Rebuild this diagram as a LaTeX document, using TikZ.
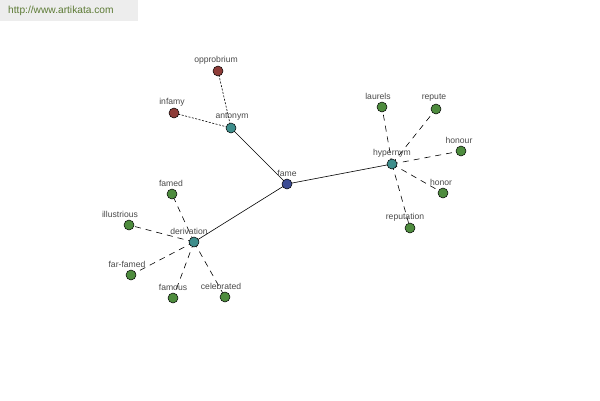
\documentclass[tikz,border=0pt]{standalone}
\usepackage{fontspec}
\setmainfont{Liberation Sans}
\usetikzlibrary{calc}
\definecolor{cgreen}{HTML}{4E8C3E}
\definecolor{cteal}{HTML}{3E8E8C}
\definecolor{cblue}{HTML}{3C4C94}
\definecolor{cbrown}{HTML}{8E3C38}
\definecolor{ctext}{HTML}{4A4A4A}
\definecolor{wmbg}{HTML}{EDEDED}
\definecolor{wmtext}{HTML}{5C7A34}
\begin{document}
\begin{tikzpicture}[x=1pt,y=-1pt,
  dot/.style={circle,draw=black,line width=0.5pt,minimum size=10pt,inner sep=0pt},
  gdot/.style={dot,fill=cgreen},
  tdot/.style={dot,fill=cteal},
  bdot/.style={dot,fill=cblue},
  rdot/.style={dot,fill=cbrown},
  lbl/.style={font=\fontsize{8.6}{10}\selectfont,text=ctext,inner sep=0pt},
  rel/.style={line width=0.6pt},
  dotrel/.style={line width=0.6pt,dash pattern=on 2pt off 1.5pt},
  dashrel/.style={line width=0.6pt,dash pattern=on 6pt off 5pt}]
\useasboundingbox (0,0) rectangle (600,400);
\fill[white] (0,0) rectangle (600,400);
\node[fill=wmbg,minimum width=138pt,minimum height=21pt,anchor=north west,inner sep=0pt] (wm) at (0,0) {};
\node[font=\fontsize{10.2}{12}\selectfont,text=wmtext,anchor=west,inner sep=0pt] (wmt) at (8,11) {http://www.artikata.com};
% nodes
\coordinate (fame) at (287,184);
\coordinate (antonym) at (231,128);
\coordinate (opprobrium) at (218,71);
\coordinate (infamy) at (174,113);
\coordinate (hypernym) at (392,164);
\coordinate (laurels) at (382,107);
\coordinate (repute) at (436,109);
\coordinate (honour) at (461,151);
\coordinate (honor) at (443,193);
\coordinate (reputation) at (410,228);
\coordinate (derivation) at (194,242);
\coordinate (famed) at (172,194);
\coordinate (illustrious) at (129,225);
\coordinate (farfamed) at (131,275);
\coordinate (famous) at (173,298);
\coordinate (celebrated) at (225,297);
% edges
\draw[rel] (fame) -- (antonym);
\draw[rel] (fame) -- (hypernym);
\draw[rel] (fame) -- (derivation);
\draw[dotrel] (antonym) -- (opprobrium);
\draw[dotrel] (antonym) -- (infamy);
\foreach \t in {laurels,repute,honour,honor,reputation}
  \draw[dashrel] (hypernym) -- (\t);
\foreach \t in {famed,illustrious,farfamed,famous,celebrated}
  \draw[dashrel] (derivation) -- (\t);
% dots
\node[bdot] (nfame) at (fame) {};
\node[tdot] (nantonym) at (antonym) {};
\node[tdot] (nhypernym) at (hypernym) {};
\node[tdot] (nderivation) at (derivation) {};
\node[rdot] (nopprobrium) at (opprobrium) {};
\node[rdot] (ninfamy) at (infamy) {};
\foreach \t in {laurels,repute,honour,honor,reputation,famed,illustrious,farfamed,famous,celebrated}
  \node[gdot] (n\t) at (\t) {};
% labels
\node[lbl] (lfame) at ($(fame)+(0,-11)$) {fame};
\node[lbl] (lantonym) at ($(antonym)+(1,-11)$) {antonym};
\node[lbl] (lopprobrium) at ($(opprobrium)+(-2,-11)$) {opprobrium};
\node[lbl] (linfamy) at ($(infamy)+(-2,-11)$) {infamy};
\node[lbl] (lhypernym) at ($(hypernym)+(0,-11)$) {hypernym};
\node[lbl] (llaurels) at ($(laurels)+(-4,-11)$) {laurels};
\node[lbl] (lrepute) at ($(repute)+(-2,-11)$) {repute};
\node[lbl] (lhonour) at ($(honour)+(-2,-11)$) {honour};
\node[lbl] (lhonor) at ($(honor)+(-2,-11)$) {honor};
\node[lbl] (lreputation) at ($(reputation)+(-5,-11)$) {reputation};
\node[lbl] (lderivation) at ($(derivation)+(-5,-11)$) {derivation};
\node[lbl] (lfamed) at ($(famed)+(-1,-11)$) {famed};
\node[lbl] (lillustrious) at ($(illustrious)+(-9,-11)$) {illustrious};
\node[lbl] (lfarfamed) at ($(farfamed)+(-4,-11)$) {far-famed};
\node[lbl] (lfamous) at ($(famous)+(0,-11)$) {famous};
\node[lbl] (lcelebrated) at ($(celebrated)+(-4,-11)$) {celebrated};
\end{tikzpicture}
\end{document}
